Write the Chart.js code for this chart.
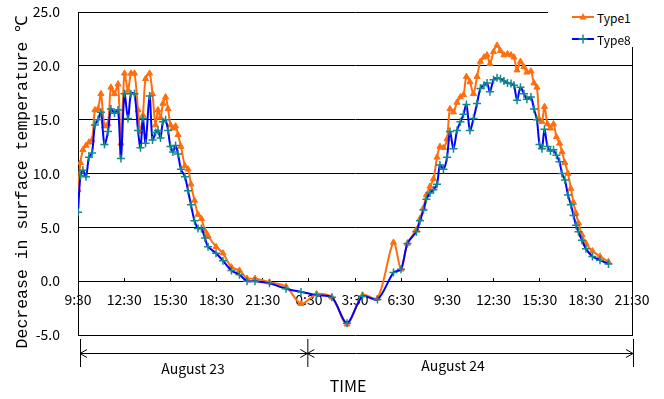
<!DOCTYPE html>
<html lang="en">
<head>
    <meta charset="UTF-8">
    <title>Surface temperature decrease</title>
    <script src="https://cdn.jsdelivr.net/npm/chart.js"></script>
    <style>
        body {
            margin: 0;
            padding: 0;
            background-color: #fff;
        }

        #wrap {
            position: relative;
            width: 664px;
            height: 399px;
        }

        #legend {
            position: absolute;
            left: 548px;
            top: 0;
            width: 116px;
            height: 47px;
            background: #fff;
            font-family: 'Noto Sans CJK JP', sans-serif;
            font-size: 12px;
            color: #000;
        }

        .legend-item {
            position: absolute;
            left: 24px;
            height: 14px;
            display: flex;
            align-items: center;
        }

        .legend-item svg {
            margin-right: 3px;
        }
    </style>
</head>
<body>
    <div id="wrap">
        <canvas id="chart" width="664" height="399"></canvas>
        <div id="legend"></div>
    </div>

    <script>
        // hours after 9:30 on August 23
        const hours = [
            0, 0.16, 0.32, 0.52, 0.71, 0.91, 1.10, 1.30, 1.49, 1.72,
            1.95, 2.14, 2.37, 2.60, 2.79, 3.02, 3.25, 3.44, 3.67, 3.90,
            4.06, 4.22, 4.39, 4.65, 4.84, 5.04, 5.20, 5.36, 5.52, 5.69,
            5.85, 6.01, 6.17, 6.34, 6.50, 6.69, 6.95, 7.15, 7.34, 7.57,
            7.80, 8.02, 8.25, 8.45, 8.97, 9.42, 9.97, 10.49, 10.98, 11.50,
            12.44, 13.52, 14.49, 15.50, 16.50, 17.48, 18.49, 19.46, 20.50, 20.99,
            21.41, 21.99,
            22.22, 22.45, 22.64, 22.87, 23.10, 23.33, 23.52, 23.75, 23.98, 24.17,
            24.40, 24.63, 24.85, 25.05, 25.24, 25.47, 25.70, 25.93, 26.15, 26.38,
            26.58, 26.77, 27.00, 27.23, 27.45, 27.68, 27.91, 28.14, 28.33, 28.53,
            28.75, 28.98, 29.17, 29.43, 29.63, 29.82, 29.99, 30.15, 30.31, 30.51,
            30.70, 30.90, 31.09, 31.29, 31.45, 31.64, 31.84, 32.03, 32.20, 32.36,
            32.52, 32.75, 33.01, 33.43, 33.92, 34.47
        ];

        const type1 = [
            8.5, 11.0, 12.2, 12.6, 12.9, 13.1, 15.9, 16.0, 17.4, 14.4,
            14.6, 18.0, 17.4, 18.3, 12.8, 19.3, 17.7, 19.3, 19.3, 15.9,
            13.9, 15.4, 18.8, 19.3, 17.4, 14.5, 15.9, 15.2, 16.5, 17.1,
            16.0, 14.5, 14.2, 14.4, 13.6, 12.5, 10.7, 10.4, 9.0, 7.5,
            6.2, 5.8, 4.7, 4.2, 3.2, 2.6, 1.3, 1.0, 0.25, 0.25,
            -0.1, -0.5, -2.1, -1.2, -1.5, -4.0, -1.3, -1.6, 3.6, 1.1,
            3.5, 4.8,
            5.8, 6.8, 8.0, 8.8, 9.5, 11.5, 12.5, 12.4, 13.2, 16.0,
            15.7, 16.6, 17.1, 17.3, 19.0, 18.5, 17.4, 19.0, 20.4, 20.8,
            21.0, 20.2, 21.3, 21.9, 21.4, 21.0, 21.1, 21.0, 20.8, 19.6,
            20.4, 19.9, 19.4, 19.5, 18.4, 18.0, 15.0, 14.8, 16.2, 14.6,
            14.2, 14.6, 13.4, 12.8, 12.0, 11.0, 10.0, 8.6, 7.3, 6.3,
            5.4, 4.3, 3.5, 2.8, 2.3, 1.8
        ];

        const type8 = [
            6.4, 9.8, 10.3, 9.7, 11.5, 11.9, 14.5, 15.0, 15.7, 12.7,
            13.9, 16.0, 15.6, 15.9, 11.4, 17.4, 15.1, 17.4, 17.4, 14.0,
            12.4, 15.1, 12.8, 17.2, 13.1, 13.8, 14.0, 13.3, 14.8, 15.0,
            14.0, 12.5, 12.0, 12.6, 11.8, 10.4, 9.7, 8.4, 7.1, 5.6,
            4.9, 4.9, 4.0, 3.2, 2.6, 1.9, 1.0, 0.6, 0.0, 0.0,
            -0.2, -0.7, -1.0, -1.3, -1.5, -3.9, -1.4, -1.7, 0.8, 1.1,
            3.5, 4.6,
            5.6, 6.6, 7.6, 8.2, 8.5, 9.0, 10.8, 10.4, 11.5, 13.9,
            12.3, 14.0, 14.8, 15.5, 16.4, 14.0, 15.1, 16.5, 17.9, 18.2,
            18.4, 17.6, 18.7, 18.9, 18.8, 18.6, 18.4, 18.35, 18.2, 16.8,
            18.0, 17.4, 16.9, 17.1, 16.0, 15.0, 12.7, 12.3, 14.1, 12.5,
            12.1, 12.2, 11.7, 11.1, 10.0, 9.4, 8.0, 7.1, 6.1, 5.2,
            4.6, 3.8, 3.0, 2.3, 1.95, 1.6
        ];

        const timeLabels = ['9:30', '12:30', '15:30', '18:30', '21:30', '0:30', '3:30',
                            '6:30', '9:30', '12:30', '15:30', '18:30', '21:30'];
        const dayLabels = ['August 23', 'August 24'];

        const ORANGE = '#FF6E0E';
        const BLUE = '#0000FF';
        const TEAL = '#138A8A';
        const FONT = "'Noto Sans CJK JP', sans-serif";

        // wanted plot frame inside the 664x399 canvas
        const AREA = { left: 78, right: 632, top: 12, bottom: 335 };

        function toPoints(values) {
            return values.map((v, i) => ({ x: hours[i], y: v }));
        }

        // arrows, day labels and axis titles around the plot
        const annotations = {
            id: 'annotations',
            afterDraw(chart) {
                const ctx = chart.ctx;
                const xs = chart.scales.x;
                const x0 = xs.getPixelForValue(0) + 2;
                const xMid = xs.getPixelForValue(15) - 1.5;
                const x1 = xs.getPixelForValue(36) + 1;
                const yLine = 353;

                ctx.save();
                ctx.strokeStyle = '#000';
                ctx.lineWidth = 1;
                ctx.beginPath();
                [x0, xMid, x1].forEach(x => {
                    ctx.moveTo(x + 0.5, 339);
                    ctx.lineTo(x + 0.5, 367);
                });
                ctx.moveTo(x0, yLine + 0.5);
                ctx.lineTo(x1, yLine + 0.5);
                // arrow heads
                const head = (x, dir) => {
                    ctx.moveTo(x + dir * 7, yLine - 3.5);
                    ctx.lineTo(x, yLine + 0.5);
                    ctx.lineTo(x + dir * 7, yLine + 4.5);
                };
                head(x0, 1);
                head(xMid, -1);
                head(xMid, 1);
                head(x1, -1);
                ctx.stroke();

                ctx.fillStyle = '#000';
                ctx.font = '14px ' + FONT;
                ctx.textAlign = 'center';
                ctx.textBaseline = 'middle';
                ctx.fillText(dayLabels[0], 193, 369);
                ctx.fillText(dayLabels[1], 453, 366);

                ctx.font = '16px ' + FONT;
                ctx.fillText('TIME', 348, 386);

                ctx.translate(23, 182);
                ctx.rotate(-Math.PI / 2);
                ctx.font = '16.5px "Liberation Mono", monospace';
                ctx.fillText('Decrease in surface temperature \u2103', 0, 0);
                ctx.restore();
            }
        };

        const ctx = document.getElementById('chart').getContext('2d');
        const chart = new Chart(ctx, {
            type: 'line',
            data: {
                datasets: [{
                    label: 'Type8',
                    data: toPoints(type8),
                    borderColor: BLUE,
                    borderWidth: 2,
                    pointStyle: 'cross',
                    pointRadius: 4,
                    pointBorderColor: TEAL,
                    pointBorderWidth: 1.5,
                    tension: 0.3,
                    order: 0
                }, {
                    label: 'Type1',
                    data: toPoints(type1),
                    borderColor: ORANGE,
                    backgroundColor: ORANGE,
                    borderWidth: 2,
                    pointStyle: 'triangle',
                    pointRadius: 3.5,
                    pointBorderColor: ORANGE,
                    pointBackgroundColor: ORANGE,
                    pointBorderWidth: 1,
                    tension: 0.3,
                    order: 1
                }]
            },
            options: {
                responsive: false,
                animation: false,
                layout: {
                    padding: { left: 0, right: 32, top: 12, bottom: 64 }
                },
                plugins: {
                    legend: { display: false },
                    tooltip: { enabled: false }
                },
                scales: {
                    x: {
                        type: 'linear',
                        position: { y: 0 },
                        min: 0,
                        max: 36,
                        afterBuildTicks: (scale) => {
                            scale.ticks = timeLabels.map((t, i) => ({ value: i * 3 }));
                        },
                        afterFit: (scale) => {
                            scale.paddingLeft = 0;
                            scale.paddingRight = 0;
                        },
                        ticks: {
                            autoSkip: false,
                            maxRotation: 0,
                            color: '#000',
                            padding: 14,
                            font: { family: FONT, size: 14 },
                            callback: (value, index) => timeLabels[index]
                        },
                        grid: {
                            drawOnChartArea: false,
                            drawTicks: true,
                            tickLength: -4,
                            color: '#000'
                        },
                        border: { display: true, color: '#000', width: 1 }
                    },
                    y: {
                        min: -5,
                        max: 25,
                        afterBuildTicks: (scale) => {
                            const t = [];
                            for (let v = -5; v <= 25; v += 5) t.push({ value: v });
                            scale.ticks = t;
                        },
                        afterFit: (scale) => {
                            scale.width = 78;
                            scale.paddingTop = 0;
                            scale.paddingBottom = 0;
                        },
                        ticks: {
                            color: '#000',
                            padding: 18,
                            font: { family: FONT, size: 14 },
                            callback: (value) => value.toFixed(1)
                        },
                        grid: {
                            color: '#000',
                            lineWidth: 1,
                            drawTicks: false
                        },
                        border: { display: true, color: '#000', width: 1 }
                    },
                    y2: {
                        position: 'right',
                        min: -5,
                        max: 25,
                        afterFit: (scale) => {
                            scale.width = 0;
                            scale.paddingTop = 0;
                            scale.paddingBottom = 0;
                        },
                        ticks: { display: false },
                        grid: { display: false },
                        border: { display: true, color: '#000', width: 1 }
                    }
                }
            },
            plugins: [annotations]
        });

        // nudge the layout padding so the plot frame lands where the original has it
        const pad = chart.options.layout.padding;
        const area = chart.chartArea;
        pad.top += AREA.top - area.top;
        pad.bottom += area.bottom - AREA.bottom;
        pad.left += AREA.left - area.left;
        pad.right += area.right - AREA.right;
        chart.update();

        // legend drawn over the top right corner of the frame
        const legendItems = [
            { label: 'Type1', line: ORANGE, marker: 'triangle', color: ORANGE, top: 10 },
            { label: 'Type8', line: BLUE, marker: 'cross', color: TEAL, top: 32 }
        ];
        const legend = document.getElementById('legend');
        legendItems.forEach(item => {
            const row = document.createElement('div');
            row.className = 'legend-item';
            row.style.top = item.top + 'px';
            let mark;
            if (item.marker === 'triangle') {
                mark = `<polygon points="11,3 14.5,9.5 7.5,9.5" fill="${item.color}"/>`;
            } else {
                mark = `<path d="M11 2.5 V11.5 M6.5 7 H15.5" stroke="${item.color}" stroke-width="1.5"/>`;
            }
            row.innerHTML = `<svg width="22" height="14"><line x1="0" y1="7" x2="22" y2="7" stroke="${item.line}" stroke-width="2"/>${mark}</svg><span>${item.label}</span>`;
            legend.appendChild(row);
        });
    </script>
</body>
</html>
